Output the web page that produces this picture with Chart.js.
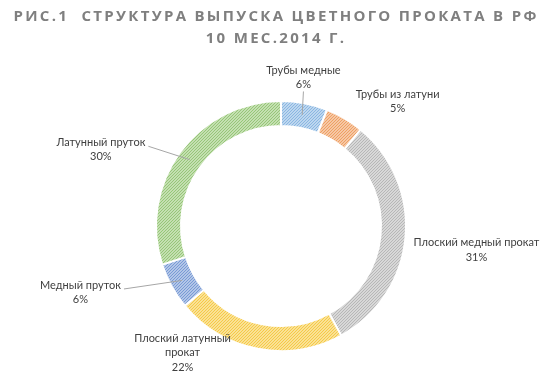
<!DOCTYPE html>
<html>
<head>
<meta charset="utf-8">
<script src="https://cdn.jsdelivr.net/npm/chart.js@4/dist/chart.umd.min.js"></script>
<style>
  html, body { margin: 0; padding: 0; background: #fff; }
  #wrap { width: 550px; height: 386px; position: relative; }
</style>
</head>
<body>
<div id="wrap"><canvas id="pie"></canvas></div>
<script>
const titleLines = ['РИС.1  СТРУКТУРА ВЫПУСКА ЦВЕТНОГО ПРОКАТА В РФ', '10 МЕС.2014 Г.'];
const categories = [
  ['Трубы медные'],
  ['Трубы из латуни'],
  ['Плоский медный прокат'],
  ['Плоский латунный', 'прокат'],
  ['Медный пруток'],
  ['Латунный пруток']
];
const shares = [6, 5, 31, 22, 6, 30];

// stripe colour / background tint for each slice
const stripeColors = ['#86b4e0', '#ee9d5e', '#b5b5b5', '#f5c842', '#7497d3', '#93c473'];
const tintColors = ['#d3e5f5', '#fadac3', '#e6e6e6', '#fcecb8', '#ccd9f0', '#d8ebcb'];

// label offset from the slice's outer midpoint, and whether a leader line is drawn
const labelShift = [[-1, -26], [53, -17], [71, 12], [-75, 4], [-91, 6], [-79, -3]];
const leader = [true, false, false, false, true, true];

function hatch(stripe, tint) {
  const c = document.createElement('canvas');
  c.width = 3; c.height = 3;
  const g = c.getContext('2d');
  g.fillStyle = tint;
  g.fillRect(0, 0, 3, 3);
  g.strokeStyle = stripe;
  g.lineWidth = 1.1;
  g.beginPath();
  g.moveTo(-1, 4); g.lineTo(4, -1);
  g.moveTo(-1, 1); g.lineTo(1, -1);
  g.moveTo(2, 4); g.lineTo(4, 2);
  g.stroke();
  return g.createPattern(c, 'repeat');
}

const fills = shares.map((v, i) => hatch(stripeColors[i], tintColors[i]));

const labelPlugin = {
  id: 'labels',
  afterDraw(chart) {
    const ctx = chart.ctx;
    ctx.save();
    // title
    ctx.fillStyle = '#7f7f7f';
    ctx.font = 'bold 15px "Open Sans"';
    ctx.letterSpacing = '2.3px';
    ctx.textAlign = 'center';
    ctx.textBaseline = 'middle';
    ctx.fillText(titleLines[0], 276, 17);
    ctx.fillText(titleLines[1], 276, 39);
    ctx.letterSpacing = '0px';

    const meta = chart.getDatasetMeta(0);
    ctx.font = '11px Lato';
    ctx.fillStyle = '#404040';
    meta.data.forEach((arc, i) => {
      const mid = (arc.startAngle + arc.endAngle) / 2;
      const ox = arc.x + Math.cos(mid) * arc.outerRadius;
      const oy = arc.y + Math.sin(mid) * arc.outerRadius;
      const lx = ox + labelShift[i][0];
      const ly = oy + labelShift[i][1];
      const lines = categories[i].concat([shares[i] + '%']);
      const lh = 14.5;
      const top = ly - (lines.length - 1) * lh / 2;
      lines.forEach((t, k) => ctx.fillText(t, lx, top + k * lh));
      if (leader[i]) {
        ctx.strokeStyle = '#a6a6a6';
        ctx.lineWidth = 1;
        ctx.beginPath();
        const inner = arc.outerRadius - 12;
        const ex = arc.x + Math.cos(mid) * inner;
        const ey = arc.y + Math.sin(mid) * inner;
        if (i === 0) {
          ctx.moveTo(lx, top + (lines.length - 1) * lh + 7);
        } else if (lx < arc.x) {
          const w = ctx.measureText(categories[i][0]).width;
          ctx.moveTo(lx + w / 2 + 3, top + 4);
        }
        ctx.lineTo(ex, ey);
        ctx.stroke();
      }
    });
    ctx.restore();
  }
};

new Chart(document.getElementById('pie'), {
  type: 'doughnut',
  data: {
    labels: categories.map(c => c.join(' ')),
    datasets: [{
      data: shares,
      backgroundColor: fills,
      borderColor: '#ffffff',
      borderWidth: 2
    }]
  },
  options: {
    responsive: true,
    maintainAspectRatio: false,
    animation: false,
    cutout: '80%',
    layout: { padding: { top: 100, bottom: 34, left: 155, right: 143 } },
    plugins: {
      legend: { display: false },
      tooltip: { enabled: false }
    }
  },
  plugins: [labelPlugin]
});
</script>
</body>
</html>
